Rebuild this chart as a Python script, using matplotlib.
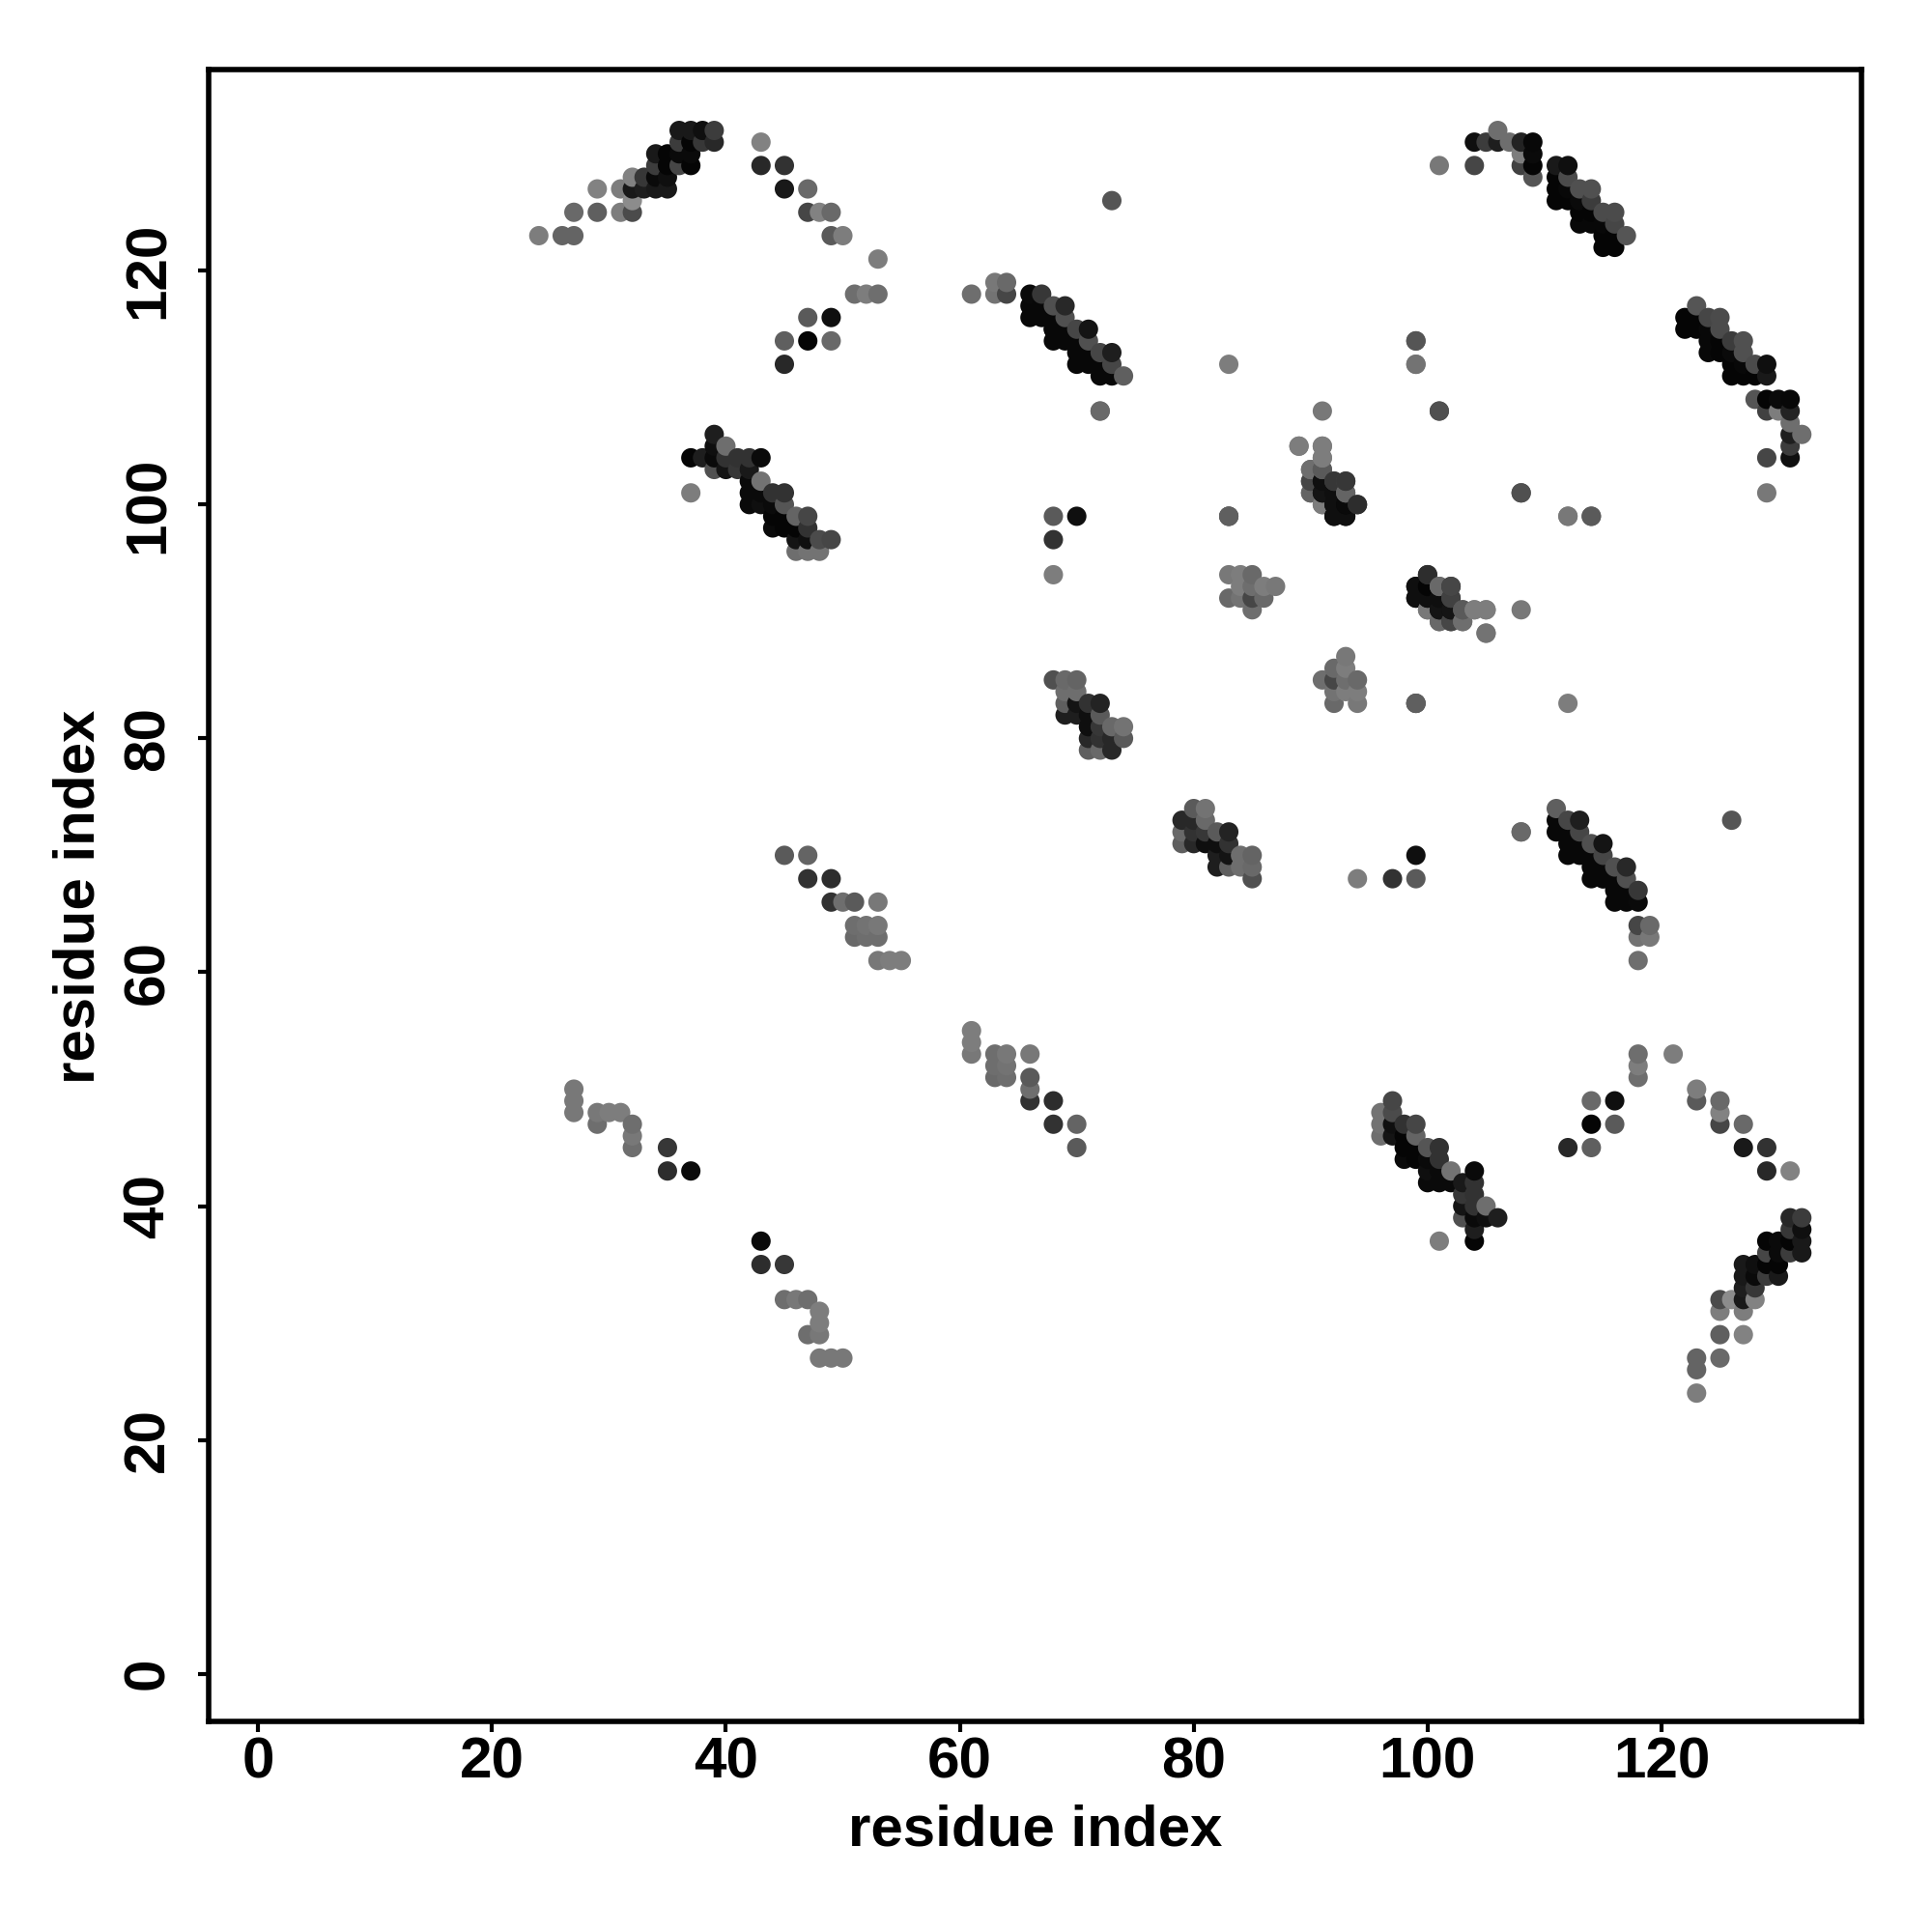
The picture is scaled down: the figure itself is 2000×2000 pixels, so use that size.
import numpy as np
import matplotlib
matplotlib.use("Agg")
import matplotlib.pyplot as plt

plt.rcParams['font.family'] = ['Liberation Sans', 'DejaVu Sans']

# Upper-triangle contacts, one row of the map per line: residue i, residue j, grey level
contact_i = [
    24,26,27, 27,29,31,32, 32, 29,31,32,33,34,35, 32,33,34,35,
    34,35,36,37, 34,35,36,37, 36,37,38,39, 36,37,38,39,
    43, 43,45, 45,47, 47,48,49, 49,50, 53, 51,52,53, 47,49, 45,47,49, 45,
    61, 63,64, 63,64, 66,67,68,69, 66,67,68,69, 66,67,68,69,
    68,69,70,71, 68,69,70,71, 70,71,72,73, 70,71,72,73, 72,73,74, 72,
    39, 39,40, 37,38,39,40,41,42,43, 39,40,41,42, 42,43, 37,42,43,44,45,
    42,43,44,45, 44,45,46,47, 44,45,46,47, 46,47,48,49, 46,47,48,
    106, 104,105,106,107,108,109, 108,109, 101,104,108,109, 109,
    111,112, 111,112, 111,112,113,114, 111,112,113,114, 113,114,115,116,
    113,114,115,116, 115,116,117, 115,116,
    89,91, 91, 90,91, 90,91,92,93, 90,91,92,93, 91,92,93,94, 92,93,
    83,84,85, 84,85,86,87, 83,84,85,86, 85,
    100, 99,100,101,102, 99,100,101,102, 100,101,102,103,104,105, 101,102,103, 105,
    68,69,70, 69,70, 69,70,71,72, 69,70,71,72, 71,72,73,74, 71,72,73,74, 71,72,73,
    45,47, 47,49, 49,50,51,53, 51,52,53, 51,52,53, 53,54,55,
    27,27,27, 29,30,31, 29,32, 32, 32, 35, 35,37,
    73, 83, 99, 99, 101, 91, 108, 112,114, 83, 68,70, 68, 68, 83, 72, 99,
]
contact_j = [
    123,123,123, 125,125,125,125, 126, 127,127,127,127,127,127, 128,128,128,128,
    129,129,129,129, 130,130,130,130, 131,131,131,131, 132,132,132,132,
    131, 129,129, 127,127, 125,125,125, 123,123, 121, 118,118,118, 116,116, 114,114,114, 112,
    118, 119,119, 118,118, 118,118,117,117, 117,117,116,116, 116,116,115,115,
    115,115,115,115, 114,114,114,114, 113,113,113,113, 112,112,112,112, 111,111,111, 108,
    106, 105,105, 104,104,104,104,104,104,104, 103,103,103,103, 102,102, 101,101,101,101,101,
    100,100,100,100, 99,99,99,99, 98,98,98,98, 97,97,97,97, 96,96,96,
    132, 131,131,131,131,131,131, 130,130, 129,129,129,129, 128,
    129,129, 128,128, 127,127,127,127, 126,126,126,126, 125,125,125,125,
    124,124,124,124, 123,123,123, 122,122,
    105,105, 104, 103,103, 102,102,102,102, 101,101,101,101, 100,100,100,100, 99,99,
    94,94,94, 93,93,93,93, 92,92,92,92, 91,
    94, 93,93,93,93, 92,92,92,92, 91,91,91,91,91,91, 90,90,90, 89,
    85,85,85, 84,84, 83,83,83,83, 82,82,82,82, 81,81,81,81, 80,80,80,80, 79,79,79,
    70,70, 68,68, 66,66,66,66, 64,64,64, 63,63,63, 61,61,61,
    50,49,48, 48,48,48, 47,47, 46, 45, 45, 43,43,
    126, 112, 114, 112, 108, 108, 101, 99,99, 99, 99,99, 97, 94, 99, 108, 83,
]
contact_gray = [
    125,100,100, 105,95,125,75, 140, 130,125,25,30,25,25, 130,55,10,15,
    60,5,70,5, 25,5,10,10, 60,5,55,40, 25,25,15,60,
    130, 40,50, 25,105, 70,130,105, 90,125, 125, 110,125,110, 90,15, 95,5,105, 40,
    110, 120,105, 115,70, 10,55,80,40, 8,8,8,80, 8,8,8,8,
    8,8,70,20, 8,8,8,80, 8,8,70,30, 8,8,8,70, 8,8,95, 110,
    30, 15,110, 5,30,10,50,50,50,10, 80,20,55,25, 10,115, 125,10,10,50,50,
    10,15,10,85, 5,5,100,70, 10,5,5,50, 20,15,75,70, 110,115,115,
    110, 15,60,30,110,35,8, 125,10, 120,70,65,5, 85,
    25,15, 5,75, 5,8,80,80, 5,5,10,60, 5,5,75,75,
    8,8,8,70, 5,5,85, 5,5,
    115,125, 125, 110,90, 70,20,65,70, 105,20,15,105, 120,15,5,45, 15,15,
    120,125,105, 125,110,125,120, 105,115,70,105, 110,
    45, 15,10,100,55, 15,15,15,55, 125,20,15,90,125,125, 100,70,110, 125,
    80,105,100, 110,110, 95,20,50,35, 30,30,15,90, 15,55,105,115, 40,50,40,90, 95,105,40,
    90,100, 50,45, 50,110,90,120, 110,115,120, 105,110,110, 120,125,125,
    120,120,120, 120,125,125, 110,110, 120, 110, 55, 45,10,
    85, 125, 90, 120, 80, 120, 80, 115,85, 90, 90,15, 50, 125, 95, 105, 95,
]
x_ticks = [0, 20, 40, 60, 80, 100, 120]
y_ticks = [0, 20, 40, 60, 80, 100, 120]
x_label = "residue index"
y_label = "residue index"

i = np.array(contact_i)
j = np.array(contact_j)
g = np.array(contact_gray)
n = min(len(i), len(j), len(g))
i, j, g = i[:n], j[:n], g[:n]

# Symmetric map: draw each contact on both sides of the diagonal
xs = np.concatenate([i, j])
ys = np.concatenate([j, i])
gs = np.concatenate([g, g])
order = np.lexsort((ys, xs))
colors = [(v / 255, v / 255, v / 255) for v in gs[order]]

fig = plt.figure(figsize=(10, 10), dpi=200)
ax = fig.add_axes([216 / 2000, 1 - 1782 / 2000, (1927 - 216) / 2000, (1782 - 71.5) / 2000])
ax.scatter(xs[order], ys[order], s=52, c=colors, linewidths=0, clip_on=True)

ax.set_xlim(-4.23, 137.10)
ax.set_ylim(-4.08, 137.25)
ax.set_xticks(x_ticks)
ax.set_yticks(y_ticks)
ax.tick_params(axis='both', direction='out', length=4, width=1.5, labelsize=21.7)
ax.tick_params(axis='x', pad=1.5)
ax.tick_params(axis='y', pad=8.4)
for lab in ax.get_xticklabels():
    lab.set_fontweight('bold')
for lab in ax.get_yticklabels():
    lab.set_fontweight('bold')
    lab.set_rotation(90)
    lab.set_va('center')
for s in ax.spines.values():
    s.set_linewidth(2.0)
fig.text(1072 / 2000, 1 - 1895 / 2000, x_label, fontsize=21.6, fontweight='bold', ha='center', va='center')
fig.text(82.5 / 2000, 1 - 928 / 2000, y_label, fontsize=21.6, fontweight='bold', ha='center', va='center', rotation=90)
fig.savefig("out.png", dpi=200, facecolor='white')
